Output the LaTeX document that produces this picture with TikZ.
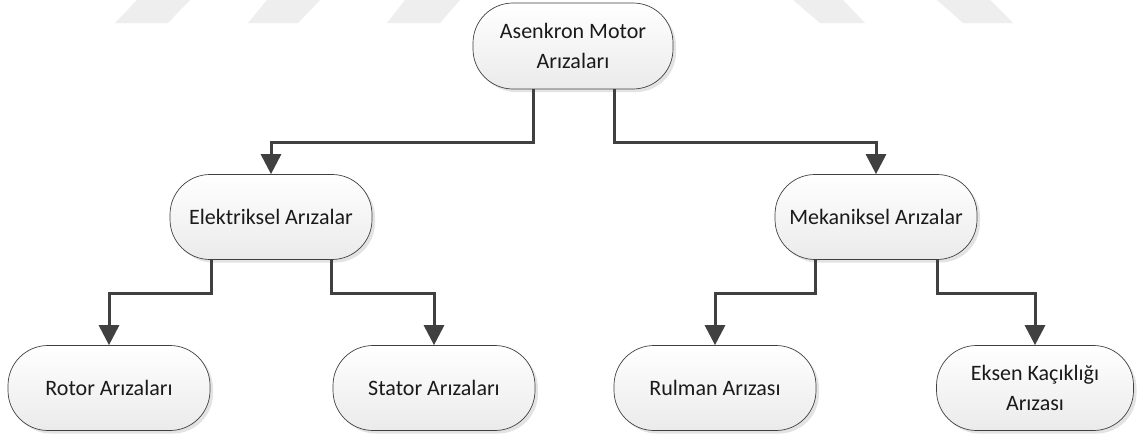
\documentclass[tikz,border=0pt]{standalone}
\usepackage{fontspec}
\setmainfont{Carlito}
\usetikzlibrary{arrows.meta,shadows}
\definecolor{linecol}{HTML}{404040}
\definecolor{wm}{HTML}{EEEEEE}
\definecolor{txt}{HTML}{1A1A1A}
\tikzset{
  boxnode/.style={draw=linecol, line width=0.7pt, rectangle, rounded corners=40pt,
    minimum width=202pt, minimum height=85pt, inner sep=2pt, align=center,
    top color=white, bottom color=black!8, text=txt,
    font=\fontsize{22}{30}\selectfont,
    drop shadow={shadow xshift=3pt, shadow yshift=-3pt, fill=black!18, opacity=0.6}},
  conn/.style={draw=linecol, line width=3pt,
    -{Triangle[length=20pt,width=20pt]}},
  wmark/.style={fill=wm, draw=none}
}
\begin{document}
\begin{tikzpicture}[x=1pt,y=-1pt]
\useasboundingbox (0,0) rectangle (1137,437);
\fill[white] (0,0) rectangle (1137,437);
% watermark
\fill[wmark] (115,23) -- (168,23) -- (190,0) -- (137,0) -- cycle;
\fill[wmark] (248,23) -- (298,23) -- (320,0) -- (267,0) -- cycle;
\fill[wmark] (387,23) -- (440,23) -- (460,0) -- (405,0) -- cycle;
\fill[wmark] (820,23) -- (865,23) -- (843,0) -- (793,0) -- cycle;
\fill[wmark] (963,23) -- (1013,23) -- (990,0) -- (937,0) -- cycle;
% nodes
\node[boxnode, minimum width=200pt, minimum height=86pt] (top) at (573,46) {Asenkron Motor\\Arızaları};
\node[boxnode] (elek) at (271,217) {Elektriksel Arızalar};
\node[boxnode] (mek) at (876,217) {Mekaniksel Arızalar};
\node[boxnode] (rotor) at (109,388) {Rotor Arızaları};
\node[boxnode] (stator) at (434,388) {Stator Arızaları};
\node[boxnode] (rulman) at (715,388) {Rulman Arızası};
\node[boxnode, minimum width=197pt] (eksen) at (1035,388) {Eksen Kaçıklığı\\Arızası};
% connectors
\draw[conn] ([xshift=-40pt]top.south) -- ++(0,53) -| (elek.north);
\draw[conn] ([xshift=41pt]top.south) -- ++(0,53) -| (mek.north);
\draw[conn] ([xshift=-60pt]elek.south) -- ++(0,34) -| (rotor.north);
\draw[conn] ([xshift=60pt]elek.south) -- ++(0,34) -| (stator.north);
\draw[conn] ([xshift=-61pt]mek.south) -- ++(0,34) -| (rulman.north);
\draw[conn] ([xshift=61pt]mek.south) -- ++(0,34) -| (eksen.north);
\end{tikzpicture}
\end{document}
